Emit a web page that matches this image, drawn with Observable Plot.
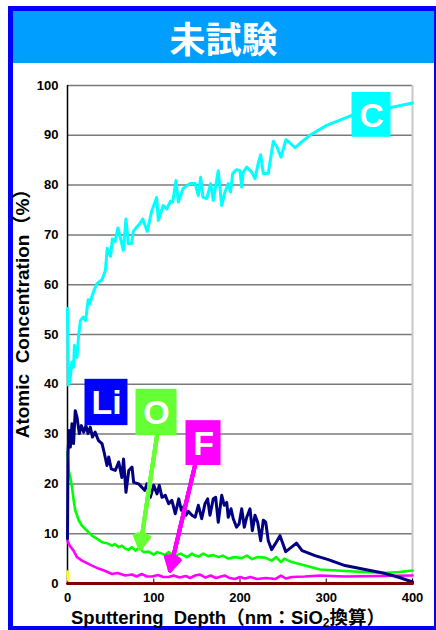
<!DOCTYPE html>
<html><head><meta charset="utf-8">
<script src="https://cdn.jsdelivr.net/npm/d3@7"></script>
<script src="https://cdn.jsdelivr.net/npm/@observablehq/plot@0.6"></script>
<style>
html,body{margin:0;padding:0;width:436px;height:630px;overflow:hidden;background:#fff;}
#frame{position:absolute;left:8px;top:6px;width:421px;height:615px;border:5px solid #0000ff;}
#title{position:absolute;left:13px;top:11px;width:421px;height:52px;background:#009fff;color:#fff;font-family:"Noto Sans CJK JP",sans-serif;font-weight:bold;font-size:36px;text-align:center;line-height:52px;}
#chart{position:absolute;left:13px;top:63px;}
#ytitle{position:absolute;left:23px;top:309px;transform:translate(-50%,-50%) rotate(-90deg);white-space:nowrap;font-family:"Liberation Sans","Noto Sans CJK JP",sans-serif;font-weight:bold;font-size:19px;line-height:20px;color:#000;}
#xtitle{position:absolute;left:228px;top:617px;transform:translate(-50%,-50%);white-space:nowrap;font-family:"Liberation Sans","Noto Sans CJK JP",sans-serif;font-weight:bold;font-size:18.5px;line-height:17px;height:17px;color:#000;}
#xtitle sub{font-size:12px;vertical-align:-3px;line-height:0;}
</style>
</head><body>
<div id="frame"></div>
<div id="title">未試験</div>
<div id="chart"></div>
<div id="ytitle">Atomic&nbsp;&nbsp;Concentration（%）</div>
<div id="xtitle">Sputtering&nbsp;&nbsp;Depth（nm：SiO<sub>2</sub>換算）</div>
<script>
// Tick values
const xTicks = [0, 100, 200, 300, 400];
const yTicks = [0, 10, 20, 30, 40, 50, 60, 70, 80, 90, 100];

// Series: [depth (nm), atomic concentration (%)]
const seriesC = [[0,55.2],[1,39.8],[3,40.8],[5,44.5],[7,43.4],[8,47.8],[11,45.4],[13,50],[15,52.8],[18,53.5],[21,52.8],[24,57],[26,56.2],[28,57.5],[30,58.5],[34,60.2],[37,60.6],[40,61],[44,62.9],[46,67.3],[48,66.5],[50,65.7],[52,69.2],[55,68.6],[58.5,71.4],[62,68.9],[64.7,66.9],[67.8,73.2],[70.5,68.2],[74.4,68.3],[76.3,70.7],[80,71.5],[84,72.3],[87.2,73.2],[92.5,70.7],[97.6,74.8],[103.4,77.5],[105.3,72.9],[111,75.9],[115,75.2],[119.6,76.8],[122,76.6],[125.8,80.9],[128.5,76.6],[134,79.3],[142,80.3],[148,80.3],[151.7,77.9],[154.4,81.6],[157,77.6],[161.4,77.3],[166,80.3],[169,76.9],[174.8,82.9],[178.8,75.9],[182.6,78.6],[186.4,80.3],[189,78.6],[191.5,82.3],[196,83.1],[200,82.9],[202,79.6],[203.8,82.6],[207.8,83.6],[213.6,82.6],[217.4,81.3],[221,84.3],[224,86.1],[227,82.3],[232.8,82.4],[238.6,88.8],[242.5,87.8],[247.5,85.6],[253.3,89.1],[257,88.6],[263.8,87.5],[269.6,88.4],[281,90],[300.5,92],[329.5,94],[375,95.6],[400,96.5]];

const seriesLi = [[0,9],[0.6,26.4],[2,30.7],[3.3,27.4],[5.2,32.1],[7,28.1],[9,34.7],[11,33.4],[13.7,30.1],[16,31.7],[18.8,30.4],[21.4,31.7],[23.8,30.1],[26.4,31.4],[29,29.4],[32,30.4],[36,28.7],[40,28.1],[42,26.7],[45.8,23.7],[47.8,25.4],[50.8,23],[55.4,22.7],[59.4,24.4],[63,21.3],[65,25],[67.8,18.3],[71,22.7],[74.8,23.4],[76.7,20.3],[82.5,20],[86.4,19.3],[89.5,18.7],[92,20],[96,17.3],[100,19.7],[103.8,18],[106.4,19.7],[109.6,17.3],[113.4,17.7],[117.3,16],[121,16.7],[125,14],[129,17],[132,14.7],[135,15.5],[137.4,13.7],[140,14.5],[144.3,13.7],[148,13.3],[151.7,15.7],[155.6,13],[159.4,16],[162.5,17],[165.2,13.7],[169,17],[171.8,17.3],[174.8,12.3],[178.8,17.7],[181.8,15.7],[184.6,16.3],[186.4,13.3],[189.6,15],[192.2,13],[196,11.3],[199,12],[202,15],[205,11.3],[207.8,13.3],[211.6,15],[214.3,10.6],[217.4,13.7],[220.5,12.3],[224,8.6],[227,12.7],[229.8,12.3],[232.8,8.6],[236.7,6.8],[241,8],[246.4,9.6],[253,6.4],[259,7.2],[265.5,8.1],[272,6.6],[287,5.6],[302.4,4.8],[321.7,3.6],[345,2.8],[366,2.1],[385,1.2],[400,0.3]];

const seriesO = [[0,26.4],[1.4,22.7],[3.3,21.3],[5.2,19.3],[7.2,16.7],[9,14.7],[13,12.7],[16.8,11.6],[22.6,10.6],[28.4,9.6],[34,9],[40,8.3],[45.8,8.1],[51.6,7.6],[55,7.9],[59.4,7.3],[63,7.6],[67,7],[71,6.8],[74.8,7.3],[78.6,6.6],[83,7.1],[88.3,6.3],[94,6.4],[100,5.8],[104,6.3],[109.6,6],[113,5.7],[117.3,6.3],[121,5.9],[125,5.6],[131,6],[138.6,5.3],[144.3,6],[147.8,5.6],[152,5.4],[157.4,6],[163,5.5],[169,5.7],[175,5.3],[180,5.6],[186.4,5],[194.2,5.3],[202,5.1],[208,5.6],[214,4.9],[220,5.3],[229,5.2],[236.7,4.6],[242,5.3],[247.5,4.3],[251.4,5],[260,4.3],[275.4,3.6],[292.8,2.8],[321.7,2.5],[366,2.1],[385,2.3],[400,2.6]];

const seriesF = [[0,8.6],[2.5,7.6],[7,6.6],[11,5.3],[16.8,4.6],[22.6,4.1],[28.4,3.6],[36,3],[43.8,2.5],[51.6,1.9],[58,2.1],[67,1.6],[74.8,1.8],[80,1.4],[86,1.9],[92,1.4],[98,1.4],[105,1.7],[111,1.3],[117.3,1.3],[123,1.6],[130,1.2],[137,1.5],[142,1.1],[148,1.6],[153.6,1.8],[160,1.2],[166,1.6],[172,1.1],[178,1.4],[182.6,1.6],[188,1.1],[194,0.9],[200,1.3],[206,1],[212,1.3],[220,0.9],[230,1.1],[240.6,0.9],[247.5,1.6],[253,1],[260,1.3],[275,1.4],[292.8,1.6],[321.7,1.4],[360,1.5],[400,1.6]];

const seriesZero = [[0,0],[400,0]];
const seriesYellow = [[0,2.4],[1,0.6]];

// Element labels (boxes in data units) and their arrows
const labels = [
  {label:"C",  x1:329.9, x2:375.1, y1:89.6, y2:98.6, fill:"#00ffff"},
  {label:"Li", x1:20.3,  x2:70.1,  y1:31.7, y2:41.0, fill:"#0000ff"},
  {label:"O",  x1:79.4,  x2:127.0, y1:29.7, y2:39.0, fill:"#66ff33"},
  {label:"F",  x1:137.4, x2:178.0, y1:23.7, y2:32.7, fill:"#ff00ff"}
];
const arrows = [
  {x1:103.8, y1:29.7, x2:84.1,  y2:7.0, stroke:"#66ff33"},
  {x1:147.8, y1:23.7, x2:118.8, y2:2.6, stroke:"#ff00ff"}
];

const X = d => d[0], Y = d => d[1];
const arrowMarks = [60, 45, 30, 15].map(a =>
  Plot.arrow(arrows, {x1: "x1", y1: "y1", x2: "x2", y2: "y2", stroke: "stroke", strokeWidth: 4, headLength: 5.4, headAngle: a})
);

const chart = Plot.plot({
  width: 423,
  height: 567,
  marginLeft: 54,
  marginRight: 24,
  marginTop: 22,
  marginBottom: 47,
  style: {background: "transparent", fontFamily: "'Liberation Sans', Arial, sans-serif", fontSize: "13px", fontWeight: "bold", color: "#000"},
  x: {domain: [0, 400], ticks: xTicks, tickSize: 0, tickPadding: 9, label: null},
  y: {domain: [0, 100], ticks: yTicks, tickSize: 0, tickPadding: 9, label: null},
  marks: [
    Plot.ruleY(yTicks.filter(d => d > 0), {stroke: "#7a7a7a", strokeWidth: 1.5}),
    Plot.ruleX([400], {stroke: "#c8c8c8", strokeWidth: 2}),
    Plot.ruleX(xTicks, {y1: 0, y2: 0.9, stroke: "#000", strokeWidth: 1}),
    Plot.ruleX([0], {stroke: "#000", strokeWidth: 1.5}),
    Plot.line(seriesC, {x: X, y: Y, stroke: "#00ffff", strokeWidth: 3}),
    Plot.line(seriesO, {x: X, y: Y, stroke: "#00ff00", strokeWidth: 2.6}),
    Plot.line(seriesF, {x: X, y: Y, stroke: "#ff00ff", strokeWidth: 2.6}),
    Plot.line(seriesLi, {x: X, y: Y, stroke: "#000080", strokeWidth: 3}),
    Plot.line(seriesZero, {x: X, y: Y, stroke: "#800000", strokeWidth: 3}),
    Plot.line(seriesYellow, {x: X, y: Y, stroke: "#ffff00", strokeWidth: 2.5}),
    Plot.rect(labels, {x1: "x1", x2: "x2", y1: "y1", y2: "y2", fill: "fill"}),
    Plot.text(labels, {x: d => (d.x1 + d.x2) / 2, y: d => (d.y1 + d.y2) / 2, text: "label", fill: "#fff", fontSize: 34, fontWeight: "bold", dy: 1}),
    ...arrowMarks
  ]
});
document.getElementById("chart").appendChild(chart);
</script>
</body></html>
